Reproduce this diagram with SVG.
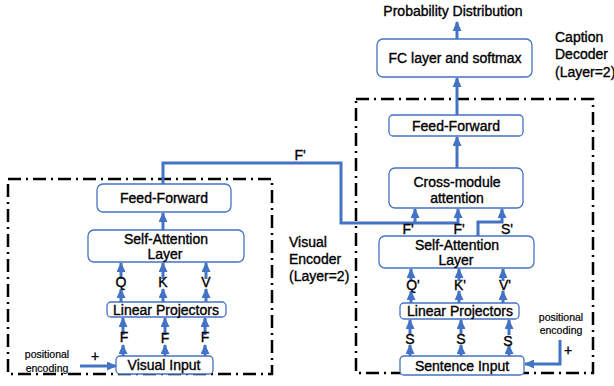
<svg xmlns="http://www.w3.org/2000/svg" width="614" height="386" viewBox="0 0 614 386">
<defs>
<marker id="ah" markerUnits="userSpaceOnUse" markerWidth="11" markerHeight="9" refX="9" refY="4.5" orient="auto">
<path d="M0,0 L10,4.5 L0,9 Z" fill="#4472C4"/>
</marker>
<style>
.node{fill:#fff;stroke:#4472C4;stroke-width:1.3}
.t{font-family:"Liberation Sans",Arial,sans-serif;font-size:14px;fill:#000;stroke:#000;stroke-width:0.35;text-anchor:middle}
.s{font-family:"Liberation Sans",Arial,sans-serif;font-size:10.5px;fill:#000;stroke:#000;stroke-width:0.2;text-anchor:middle}
.l{font-family:"Liberation Sans",Arial,sans-serif;font-size:14px;fill:#000;stroke:#000;stroke-width:0.35}
.c{fill:none;stroke:#4472C4;stroke-width:3}
.a{fill:none;stroke:#4472C4;stroke-width:3;marker-end:url(#ah)}
.frame{fill:none;stroke:#000;stroke-width:2.5;stroke-dasharray:13 5 2 5}
</style>
</defs>
<rect width="614" height="386" fill="#fff"/>

<g id="frames">
<rect class="frame" x="8" y="179" width="264" height="195"/>
<rect class="frame" x="356" y="99" width="237" height="274"/>
</g>

<g id="connectors">
<line class="a" x1="123" y1="356" x2="123" y2="345"/>
<line class="a" x1="123" y1="335" x2="123" y2="318"/>
<line class="a" x1="165" y1="356" x2="165" y2="345"/>
<line class="a" x1="165" y1="335" x2="165" y2="318"/>
<line class="a" x1="205" y1="356" x2="205" y2="345"/>
<line class="a" x1="205" y1="335" x2="205" y2="318"/>
<line class="a" x1="121" y1="302" x2="121" y2="289"/>
<line class="a" x1="121" y1="279" x2="121" y2="263"/>
<line class="a" x1="163" y1="302" x2="163" y2="289"/>
<line class="a" x1="163" y1="279" x2="163" y2="263"/>
<line class="a" x1="206" y1="302" x2="206" y2="289"/>
<line class="a" x1="206" y1="279" x2="206" y2="263"/>
<line class="a" x1="163" y1="230" x2="163" y2="213"/>
<line class="a" x1="80" y1="366" x2="116" y2="366"/>
<path class="c" d="M163,184 V163 H341 V223 H458"/>
<line class="a" x1="415" y1="224" x2="415" y2="209"/>
<line class="a" x1="458" y1="224" x2="458" y2="209"/>
<path class="a" d="M478,236 V222 H502 V209"/>
<line class="a" x1="410" y1="356" x2="410" y2="345"/>
<line class="a" x1="410" y1="335" x2="410" y2="320"/>
<line class="a" x1="461" y1="356" x2="461" y2="345"/>
<line class="a" x1="461" y1="335" x2="461" y2="320"/>
<line class="a" x1="509" y1="356" x2="509" y2="345"/>
<line class="a" x1="509" y1="335" x2="509" y2="320"/>
<line class="a" x1="411" y1="303" x2="411" y2="291"/>
<line class="a" x1="411" y1="281" x2="411" y2="269"/>
<line class="a" x1="459" y1="303" x2="459" y2="291"/>
<line class="a" x1="459" y1="281" x2="459" y2="269"/>
<line class="a" x1="503" y1="303" x2="503" y2="291"/>
<line class="a" x1="503" y1="281" x2="503" y2="269"/>
<line class="a" x1="457" y1="168" x2="457" y2="137"/>
<line class="a" x1="457" y1="115" x2="457" y2="78"/>
<line class="a" x1="457" y1="39" x2="457" y2="22"/>
<path class="a" d="M560,340 V364 H525"/>
</g>

<g id="visual-input"><rect class="node" x="116" y="356" width="97" height="18" rx="4"/><text class="t" x="164" y="370" font-size="13">Visual Input</text></g>
<g id="linear-projectors-left"><rect class="node" x="107" y="302" width="119" height="15" rx="4"/><text class="t" x="166" y="315">Linear Projectors</text></g>
<g id="self-attention-left"><rect class="node" x="88" y="230" width="156" height="32" rx="6"/><text class="t" x="166" y="244">Self-Attention</text><text class="t" x="165" y="259">Layer</text></g>
<g id="feed-forward-left"><rect class="node" x="97" y="184" width="134" height="28" rx="6"/><text class="t" x="164" y="203">Feed-Forward</text></g>

<g id="sentence-input"><rect class="node" x="400" y="356" width="124" height="19" rx="4"/><text class="t" x="462" y="371" font-size="13">Sentence Input</text></g>
<g id="linear-projectors-right"><rect class="node" x="400" y="303" width="119" height="16" rx="4"/><text class="t" x="460" y="316">Linear Projectors</text></g>
<g id="self-attention-right"><rect class="node" x="379" y="236" width="155" height="32" rx="6"/><text class="t" x="457" y="250">Self-Attention</text><text class="t" x="456" y="265">Layer</text></g>
<g id="cross-module"><rect class="node" x="389" y="168" width="134" height="40" rx="6"/><text class="t" x="457" y="187">Cross-module</text><text class="t" x="457" y="203">attention</text></g>
<g id="feed-forward-right"><rect class="node" x="389" y="115" width="134" height="21" rx="4"/><text class="t" x="456" y="131">Feed-Forward</text></g>
<g id="fc-softmax"><rect class="node" x="377" y="39" width="155" height="38" rx="6"/><text class="t" x="455" y="63">FC layer and softmax</text></g>

<g id="labels">
<text class="t" x="121" y="287">Q</text>
<text class="t" x="163" y="287">K</text>
<text class="t" x="206" y="287">V</text>
<text class="t" x="124" y="342" font-size="13">F</text>
<text class="t" x="165" y="343" font-size="13">F</text>
<text class="t" x="205" y="342" font-size="13">F</text>
<text class="t" x="413" y="290">Q'</text>
<text class="t" x="460" y="290">K'</text>
<text class="t" x="505" y="290">V'</text>
<text class="t" x="410" y="344" font-size="13">S</text>
<text class="t" x="461" y="344" font-size="13">S</text>
<text class="t" x="508" y="346" font-size="13">S</text>
<text class="t" x="408" y="234" font-size="12">F'</text>
<text class="t" x="459" y="234" font-size="12">F'</text>
<text class="t" x="507" y="234" font-size="12">S'</text>
<text class="t" x="300" y="160" font-size="12">F'</text>
<text class="s" x="47" y="358">positional</text>
<text class="s" x="47" y="372">encoding</text>
<text class="t" x="95" y="361" font-size="12">+</text>
<text class="s" x="561" y="321">positional</text>
<text class="s" x="561" y="334">encoding</text>
<text class="t" x="568" y="355" font-size="12">+</text>
<text class="l" x="289" y="247">Visual</text>
<text class="l" x="289" y="264">Encoder</text>
<text class="l" x="289" y="281">(Layer=2)</text>
<text class="l" x="555" y="42">Caption</text>
<text class="l" x="555" y="59">Decoder</text>
<text class="l" x="555" y="77">(Layer=2)</text>
<text class="t" x="453" y="16" font-size="14">Probability Distribution</text>
</g>
</svg>
